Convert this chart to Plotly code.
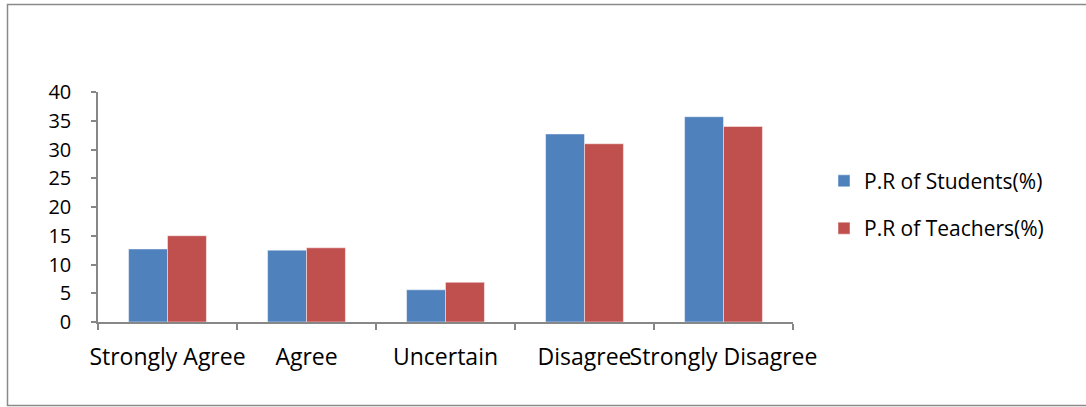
import plotly.graph_objects as go

categories = ["Strongly Agree", "Agree", "Uncertain", "Disagree", "Strongly Disagree"]
students = [12.7, 12.5, 5.6, 32.7, 35.7]
teachers = [15.0, 12.9, 6.9, 31.0, 34.0]
y_ticks = [0, 5, 10, 15, 20, 25, 30, 35, 40]

W, H = 1086, 407
L, R, T, B = 98, 293, 92, 85
pw, ph = W - L - R, H - T - B

font = "'Open Sans', 'Noto Sans', sans-serif"
axis_col = "#878787"

fig = go.Figure()
fig.add_trace(go.Bar(
    name="P.R of Students(%)", x=categories, y=students,
    marker=dict(color="#4F81BD", line=dict(color="rgba(255,255,255,0.45)", width=1)),
    legendgroup="s",
))
fig.add_trace(go.Bar(
    name="P.R of Teachers(%)", x=categories, y=teachers,
    marker=dict(color="#C0504D", line=dict(color="rgba(255,255,255,0.45)", width=1)),
    legendgroup="t",
))

def px_x(p):
    return (p - L) / pw

def px_y(p):
    return (H - B - p) / ph

fig.update_layout(
    width=W, height=H,
    margin=dict(l=L, r=R, t=T, b=B, autoexpand=False),
    paper_bgcolor="white", plot_bgcolor="white",
    barmode="group", bargap=0.44, bargroupgap=0,
    font=dict(family=font, color="#000000"),
    legend=dict(
        x=px_x(824), y=0.51, xanchor="left", yanchor="middle",
        font=dict(size=21, family=font), tracegroupgap=17,
        traceorder="grouped", itemwidth=30,
    ),
    shapes=[dict(
        type="rect", xref="paper", yref="paper",
        x0=px_x(7.5), x1=px_x(1092), y0=px_y(405.5), y1=px_y(4.5),
        line=dict(color="#8a8a8a", width=1.5), fillcolor="rgba(0,0,0,0)",
        layer="below",
    )],
)

fig.update_xaxes(
    showline=True, linecolor=axis_col, linewidth=1.5,
    ticks="outside", ticklen=6, tickcolor=axis_col, tickwidth=1.5,
    tickson="boundaries", showgrid=False, tickangle=0, automargin=False,
    tickfont=dict(size=23, family=font, color="#000000"),
    ticklabelstandoff=14,
)
fig.update_yaxes(
    range=[0, 40], tickvals=y_ticks,
    showline=True, linecolor=axis_col, linewidth=1.5,
    ticks="outside", ticklen=5, tickcolor=axis_col, tickwidth=1.5,
    showgrid=False, zeroline=False, automargin=False,
    tickfont=dict(size=20, family=font, color="#000000"),
    ticklabelstandoff=16,
)

fig.write_html("out.html")
